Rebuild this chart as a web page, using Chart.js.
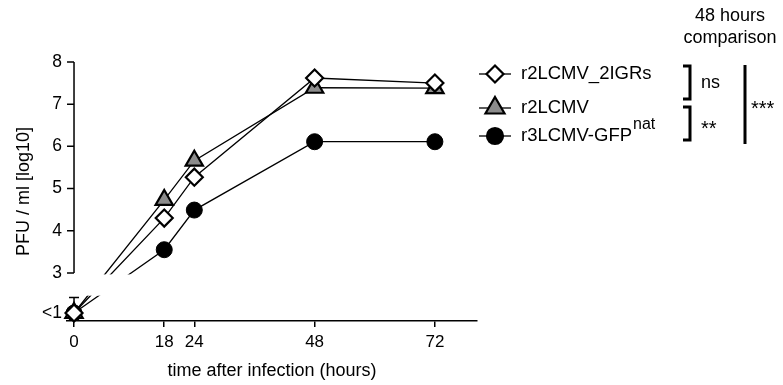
<!DOCTYPE html>
<html>
<head>
<meta charset="utf-8">
<script src="https://cdn.jsdelivr.net/npm/chart.js@4/dist/chart.umd.min.js"></script>
<style>
    html, body { margin: 0; padding: 0; background: #fff; }
</style>
</head>
<body>
<canvas id="growthChart" width="783" height="385"></canvas>
<script>
// "<1" (below detection) is drawn on the lower axis segment
const belowLimit = 2.05;
const hours = [0, 18, 24, 48, 72];
const igrsValues = [belowLimit, 4.30, 5.27, 7.62, 7.50];
const r2Values = [belowLimit, 4.73, 5.66, 7.39, 7.38];
const gfpValues = [belowLimit, 3.55, 4.49, 6.11, 6.11];
const igrsErr = [0.37, 0, 0, 0, 0];
const xTicks = [0, 18, 24, 48, 72];
const yTicks = [belowLimit, 3, 4, 5, 6, 7, 8];
const breakTop = 3;
const breakBottom = 2.46;

const fontFamily = "'Liberation Sans', Arial, Helvetica, sans-serif";
Chart.defaults.font.family = fontFamily;
Chart.defaults.font.size = 17;
Chart.defaults.color = '#000';

function toPoints(vals) {
    return hours.map((h, i) => ({ x: h, y: vals[i] }));
}

function drawMarker(ctx, style, x, y, r, fill) {
    ctx.beginPath();
    if (style === 'rectRot') {
        ctx.moveTo(x, y - r);
        ctx.lineTo(x + r, y);
        ctx.lineTo(x, y + r);
        ctx.lineTo(x - r, y);
    } else if (style === 'triangle') {
        ctx.moveTo(x, y - r);
        ctx.lineTo(x + r * 0.866, y + r / 2);
        ctx.lineTo(x - r * 0.866, y + r / 2);
    } else {
        ctx.arc(x, y, r, 0, Math.PI * 2);
    }
    ctx.closePath();
    ctx.fillStyle = fill;
    ctx.fill();
    ctx.lineWidth = 2.2;
    ctx.strokeStyle = '#000';
    ctx.stroke();
}

const brokenAxis = {
    id: 'brokenAxis',
    beforeDatasetsDraw(chart) {
        const { ctx, scales: { x, y } } = chart;
        ctx.save();
        ctx.strokeStyle = '#000';
        ctx.lineWidth = 1.5;
        hours.forEach((h, i) => {
            if (!igrsErr[i]) return;
            const px = x.getPixelForValue(h);
            const top = y.getPixelForValue(igrsValues[i] + igrsErr[i]);
            ctx.beginPath();
            ctx.moveTo(px, y.getPixelForValue(igrsValues[i]));
            ctx.lineTo(px, top);
            ctx.moveTo(px - 5, top);
            ctx.lineTo(px + 5, top);
            ctx.stroke();
        });
        ctx.restore();
    },
    afterDatasetsDraw(chart) {
        const { ctx, chartArea, scales: { x, y } } = chart;
        const gapTop = y.getPixelForValue(breakTop) + 1.5;
        const gapBottom = y.getPixelForValue(breakBottom);
        ctx.save();
        ctx.fillStyle = '#fff';
        ctx.fillRect(chartArea.left - 2, gapTop, chartArea.right - chartArea.left + 4, gapBottom - gapTop);

        const x0 = x.getPixelForValue(0);
        ctx.strokeStyle = '#000';
        ctx.lineWidth = 1.5;
        ctx.beginPath();
        ctx.moveTo(x0, y.getPixelForValue(8));
        ctx.lineTo(x0, y.getPixelForValue(breakTop));
        yTicks.forEach(v => {
            if (v < breakTop) return;
            const py = y.getPixelForValue(v);
            ctx.moveTo(x0 - 7, py);
            ctx.lineTo(x0, py);
        });
        ctx.stroke();
        ctx.restore();
    },
    afterDraw(chart) {
        const ctx = chart.ctx;
        ctx.save();
        const entries = [
            { text: 'r2LCMV_2IGRs', style: 'rectRot', r: 8.5, fill: '#fff', y: 74 },
            { text: 'r2LCMV', style: 'triangle', r: 11, fill: '#8c8c8c', y: 108 },
            { text: 'r3LCMV-GFP', sup: 'nat', style: 'circle', r: 8, fill: '#000', y: 136 }
        ];
        ctx.textBaseline = 'middle';
        entries.forEach(e => {
            ctx.strokeStyle = '#000';
            ctx.lineWidth = 1.3;
            ctx.beginPath();
            ctx.moveTo(479, e.y);
            ctx.lineTo(511, e.y);
            ctx.stroke();
            drawMarker(ctx, e.style, 495, e.y, e.r, e.fill);
            ctx.fillStyle = '#000';
            ctx.font = '18.5px ' + fontFamily;
            ctx.textAlign = 'left';
            ctx.fillText(e.text, 521, e.y);
            if (e.sup) {
                const w = ctx.measureText(e.text).width;
                ctx.font = '16px ' + fontFamily;
                ctx.fillText(e.sup, 521 + w + 1, e.y - 11);
            }
        });

        // significance brackets
        ctx.strokeStyle = '#000';
        ctx.lineWidth = 3;
        ctx.beginPath();
        ctx.moveTo(683, 66); ctx.lineTo(690, 66); ctx.lineTo(690, 99); ctx.lineTo(683, 99);
        ctx.moveTo(683, 107); ctx.lineTo(690, 107); ctx.lineTo(690, 140); ctx.lineTo(683, 140);
        ctx.moveTo(745, 65); ctx.lineTo(745, 144);
        ctx.stroke();

        ctx.fillStyle = '#000';
        ctx.textAlign = 'left';
        ctx.font = '18px ' + fontFamily;
        ctx.fillText('ns', 701, 83);
        ctx.font = '20px ' + fontFamily;
        ctx.fillText('**', 701, 129);
        ctx.fillText('***', 751, 109);
        ctx.font = '18px ' + fontFamily;
        ctx.textAlign = 'center';
        ctx.fillText('48 hours', 730, 16);
        ctx.fillText('comparison', 730, 38);
        ctx.restore();
    }
};

new Chart(document.getElementById('growthChart'), {
    type: 'line',
    data: {
        datasets: [
            {
                label: 'r2LCMV_2IGRs',
                data: toPoints(igrsValues),
                pointStyle: 'rectRot',
                pointRadius: 8.5,
                pointBackgroundColor: '#fff',
                pointBorderColor: '#000',
                pointBorderWidth: 2.2,
                borderColor: '#000',
                borderWidth: 1.3
            },
            {
                label: 'r2LCMV',
                data: toPoints(r2Values),
                pointStyle: 'triangle',
                pointRadius: 10,
                pointBackgroundColor: '#8c8c8c',
                pointBorderColor: '#000',
                pointBorderWidth: 2.2,
                borderColor: '#000',
                borderWidth: 1.3
            },
            {
                label: 'r3LCMV-GFP',
                data: toPoints(gfpValues),
                pointStyle: 'circle',
                pointRadius: 8,
                pointBackgroundColor: '#000',
                pointBorderColor: '#000',
                pointBorderWidth: 1,
                borderColor: '#000',
                borderWidth: 1.3
            }
        ]
    },
    options: {
        responsive: false,
        animation: false,
        clip: false,
        layout: { padding: { top: 62, right: 306, left: 0, bottom: 0 } },
        plugins: {
            legend: { display: false },
            tooltip: { enabled: false }
        },
        scales: {
            x: {
                type: 'linear',
                min: -1.4,
                max: 80.4,
                afterBuildTicks: scale => { scale.ticks = xTicks.map(v => ({ value: v })); },
                afterFit: scale => { scale.height = 64; },
                grid: { drawOnChartArea: false, tickLength: 6, color: '#000', lineWidth: 1.5 },
                border: { color: '#000', width: 1.5 },
                ticks: { padding: 5, maxRotation: 0, autoSkip: false },
                title: {
                    display: true,
                    text: 'time after infection (hours)',
                    font: { size: 18 },
                    padding: { top: 0, bottom: 3 }
                }
            },
            y: {
                min: 1.86,
                max: 8,
                afterBuildTicks: scale => { scale.ticks = yTicks.map(v => ({ value: v })); },
                afterFit: scale => { scale.width = 67; },
                grid: { display: false, drawTicks: false },
                border: { display: false },
                ticks: {
                    padding: 5,
                    font: { size: 17.5 },
                    callback: v => (v === belowLimit ? '<1' : v)
                },
                title: {
                    display: true,
                    text: 'PFU / ml [log10]',
                    font: { size: 18 },
                    padding: { top: 13, bottom: 0 }
                }
            }
        }
    },
    plugins: [brokenAxis]
});
</script>
</body>
</html>
